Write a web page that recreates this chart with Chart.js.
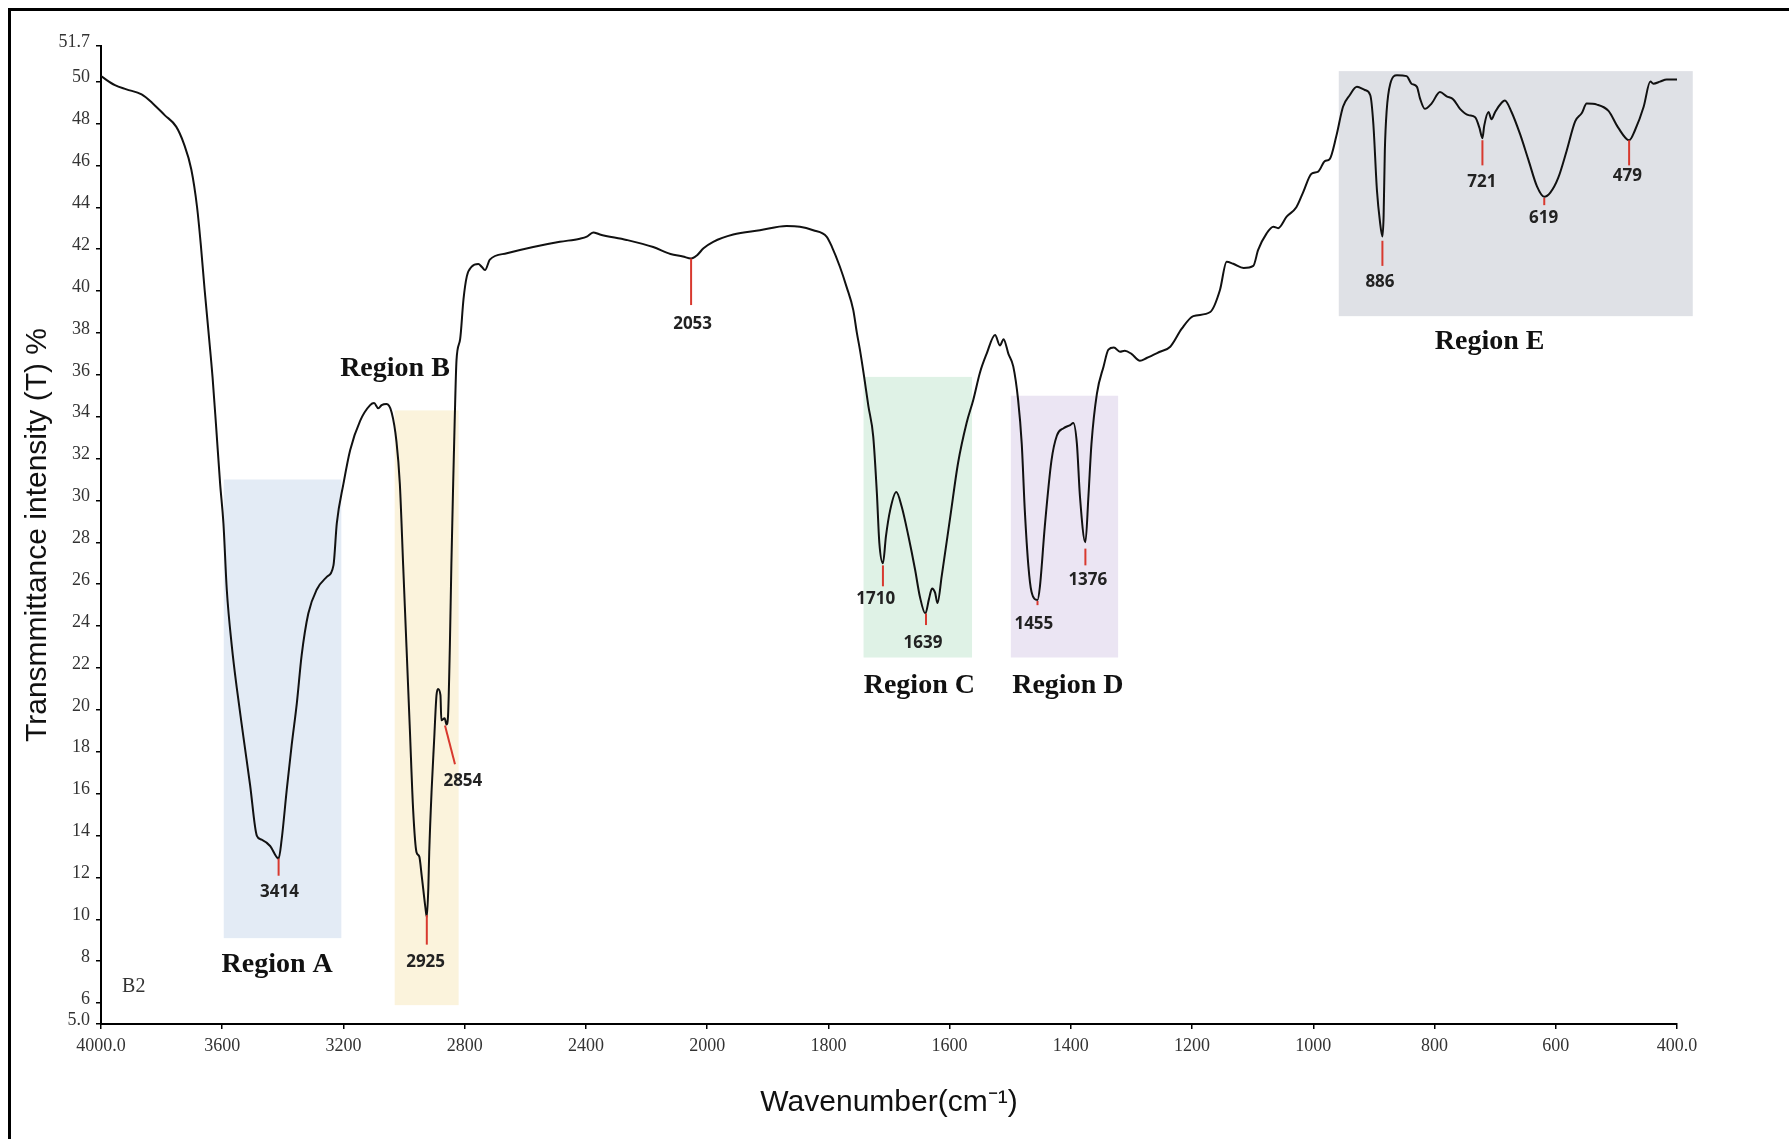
<!DOCTYPE html>
<html lang="en">
<head>
    <meta charset="UTF-8">
    <title>FTIR spectrum B2</title>
    <script src="https://cdn.jsdelivr.net/npm/chart.js"></script>
    <style>
        body, html {
            margin: 0;
            padding: 0;
            background: #ffffff;
            overflow: hidden;
        }
        .wrap {
            position: relative;
            width: 1789px;
            height: 1139px;
        }
        .frame {
            position: absolute;
            left: 8px;
            top: 8px;
            width: 2000px;
            height: 2000px;
            border: 3px solid #000;
            pointer-events: none;
        }
    </style>
</head>
<body>
<div class="wrap">
    <canvas id="ftir"></canvas>
    <div class="frame"></div>
</div>
<script>
// spectrum (wavenumber cm-1 / transmittance %)
const wavenumber = [
    4000, 3954, 3916, 3866, 3829, 3790, 3752, 3727, 3702, 3683, 3670, 3658, 3645, 3632, 3620, 3607,
    3596, 3585, 3568, 3552, 3530, 3508, 3486, 3470, 3442, 3414, 3404, 3387, 3371, 3354, 3338, 3316,
    3288, 3255, 3233, 3222, 3200, 3178, 3145, 3112, 3099, 3085, 3074, 3058, 3041, 3025, 3014, 3003,
    2992, 2981, 2970, 2959, 2950, 2942, 2930, 2925, 2920, 2917, 2909, 2901, 2893, 2888, 2880, 2877,
    2866, 2860, 2855, 2849, 2844, 2838, 2833, 2827, 2815, 2804, 2793, 2777, 2755, 2744, 2733, 2717,
    2661, 2574, 2486, 2420, 2397, 2376, 2354, 2266, 2178, 2121, 2080, 2053, 2034, 2012, 1990, 1957,
    1913, 1869, 1847, 1825, 1803, 1794, 1781, 1770, 1759, 1753, 1748, 1741, 1734, 1726, 1720, 1716,
    1710, 1705, 1698, 1688, 1679, 1668, 1657, 1649, 1640, 1634, 1629, 1624, 1620, 1613, 1599, 1586,
    1572, 1561, 1550, 1539, 1525, 1517, 1511, 1503, 1495, 1487, 1481, 1476, 1470, 1465, 1455, 1451,
    1443, 1432, 1423, 1412, 1401, 1396, 1390, 1385, 1376, 1371, 1366, 1357, 1346, 1338, 1329, 1319,
    1311, 1300, 1286, 1275, 1253, 1236, 1217, 1198, 1170, 1154, 1143, 1132, 1115, 1099, 1091, 1077,
    1066, 1058, 1044, 1028, 1017, 1003, 992, 981, 973, 962, 951, 940, 928, 915, 906, 901,
    895, 890, 886, 884, 882, 879, 873, 862, 846, 838, 829, 824, 816, 805, 791, 780,
    769, 758, 744, 733, 726, 721, 718, 711, 706, 700, 689, 684, 673, 659, 645, 631,
    619, 609, 596, 582, 568, 557, 549, 532, 513, 497, 479, 469, 455, 444, 439, 428,
    417, 400
];
const transmittance = [
    50.26, 49.83, 49.63, 49.39, 48.96, 48.4, 47.85, 47.05, 45.8, 44.0, 42.1, 40.05, 38.0, 35.9, 33.5, 30.8,
    28.9, 25.75, 23.0, 21.05, 18.7, 16.4, 14.0, 13.8, 13.5, 12.9, 13.8, 16.2, 18.3, 20.3, 22.6, 24.6,
    25.75, 26.35, 26.9, 28.9, 30.8, 32.4, 33.8, 34.55, 34.65, 34.4, 34.55, 34.6, 34.2, 32.8, 30.8, 26.9,
    23.0, 19.1, 15.2, 13.2, 13.0, 12.1, 10.6, 10.1, 11.5, 13.2, 16.2, 18.5, 20.7, 21.0, 20.7, 19.5,
    19.6, 19.3, 19.7, 23.0, 26.9, 30.8, 33.8, 36.7, 37.7, 39.6, 40.7, 41.16, 41.29, 41.16, 41.0, 41.5,
    41.8, 42.1, 42.35, 42.5, 42.6, 42.8, 42.7, 42.44, 42.1, 41.77, 41.65, 41.55, 41.7, 42.04, 42.35, 42.7,
    42.9, 43.1, 43.07, 42.9, 42.6, 42.1, 41.16, 40.2, 39.1, 38.0, 37.2, 35.9, 34.5, 33.05, 30.35, 28.0,
    27.0, 28.3, 29.55, 30.4, 29.7, 28.3, 26.7, 25.4, 24.6, 25.3, 25.8, 25.6, 25.1, 26.4, 29.2, 31.8,
    33.7, 34.8, 36.1, 37.0, 37.9, 37.4, 37.7, 37.0, 36.4, 34.8, 32.7, 29.55, 26.85, 25.65, 25.25, 25.9,
    28.75, 31.9, 33.1, 33.45, 33.6, 33.7, 32.7, 30.2, 28.0, 30.2, 32.7, 35.1, 36.4, 37.2, 37.3, 37.1,
    37.15, 37.0, 36.67, 36.8, 37.1, 37.34, 38.2, 38.8, 39.0, 40.05, 41.4, 41.3, 41.1, 41.2, 41.96, 42.75,
    43.07, 43.0, 43.55, 44.0, 44.7, 45.6, 45.7, 46.2, 46.3, 47.4, 48.8, 49.35, 49.75, 49.6, 49.35, 48.0,
    44.8, 43.3, 42.6, 43.6, 46.7, 48.6, 49.9, 50.3, 50.26, 49.9, 49.75, 49.2, 48.7, 48.95, 49.5, 49.3,
    49.15, 48.7, 48.4, 48.3, 47.8, 47.3, 47.9, 48.55, 48.2, 48.55, 49.0, 49.1, 48.55, 47.5, 46.25, 45.0,
    44.5, 44.7, 45.4, 46.7, 48.1, 48.5, 48.95, 48.9, 48.6, 47.8, 47.2, 47.7, 48.8, 50.0, 49.9, 50.0,
    50.1, 50.1
];

// axis ticks
const xTicks = [4000, 3600, 3200, 2800, 2400, 2000, 1800, 1600, 1400, 1200, 1000, 800, 600, 400];
const xTickLabels = ['4000.0', '3600', '3200', '2800', '2400', '2000', '1800', '1600', '1400', '1200', '1000', '800', '600', '400.0'];
const yTicks = [5, 6, 8, 10, 12, 14, 16, 18, 20, 22, 24, 26, 28, 30, 32, 34, 36, 38, 40, 42, 44, 46, 48, 50, 51.7];
const yTickLabels = ['5.0', '6', '8', '10', '12', '14', '16', '18', '20', '22', '24', '26', '28', '30', '32', '34', '36', '38', '40', '42', '44', '46', '48', '50', '51.7'];

// assigned peaks
const peakLabels = ['3414', '2925', '2854', '2053', '1710', '1639', '1455', '1376', '886', '721', '619', '479'];
const peakWn     = [3414, 2925, 2865, 2053, 1710, 1639, 1455, 1376, 886, 721, 619, 479];
const peakWnEnd  = [3414, 2925, 2832, 2053, 1710, 1639, 1455, 1376, 886, 721, 619, 479];
const peakTop    = [12.9, 10.2, 19.25, 41.55, 26.9, 24.6, 25.2, 27.7, 42.4, 47.2, 44.45, 47.2];
const peakBottom = [12.08, 8.79, 17.4, 39.33, 25.9, 24.05, 25.0, 26.9, 41.2, 46.0, 44.1, 46.0];
const peakTextWn = [3411, 2929, 2806, 2048, 1722, 1644, 1461, 1372, 890, 722, 620, 482];
const peakTextT  = [11.3, 7.97, 16.6, 38.4, 25.3, 23.2, 24.1, 26.2, 40.4, 45.2, 43.5, 45.5];

// shaded regions
const regionNames  = ['Region A', 'Region B', 'Region C', 'Region D', 'Region E'];
const regionFrom   = [3595, 3031, 1742, 1499, 958];
const regionTo     = [3207, 2820, 1563, 1322, 374];
const regionTop    = [31.0, 34.3, 35.9, 35.0, 50.5];
const regionBottom = [9.1, 5.9, 22.5, 22.5, 38.8];
const regionColors = ['#e3ebf5', '#fbf3dc', '#dff2e6', '#ebe5f3', '#dfe1e6'];
const regionTextWn = [3419, 3030, 1650, 1405, 709];
const regionTextT  = [7.83, 36.3, 21.16, 21.16, 37.6];

// IR wavenumber axis: 400 cm-1 per step above 2000, 200 cm-1 per step below
function irUnit(v) {
    return v >= 2000 ? (4000 - v) / 400 : 5 + (2000 - v) / 200;
}
class IRScale extends Chart.LinearScale {
    getPixelForValue(value) {
        return this.getPixelForDecimal(irUnit(value) / irUnit(400));
    }
    getValueForPixel(pixel) {
        const u = this.getDecimalForPixel(pixel) * irUnit(400);
        return u <= 5 ? 4000 - u * 400 : 2000 - (u - 5) * 200;
    }
}
IRScale.id = 'irscale';
IRScale.defaults = Chart.LinearScale.defaults;
Chart.register(IRScale);

const regionsPlugin = {
    id: 'regions',
    beforeDatasetsDraw(chart) {
        const {ctx, scales: {x, y}} = chart;
        ctx.save();
        regionNames.forEach((name, i) => {
            const x0 = x.getPixelForValue(regionFrom[i]);
            const x1 = x.getPixelForValue(regionTo[i]);
            const y0 = y.getPixelForValue(regionTop[i]);
            const y1 = y.getPixelForValue(regionBottom[i]);
            ctx.fillStyle = regionColors[i];
            ctx.fillRect(x0, y0, x1 - x0, y1 - y0);
        });
        ctx.restore();
    },
    afterDatasetsDraw(chart) {
        const {ctx, scales: {x, y}} = chart;
        ctx.save();
        // peak markers
        ctx.strokeStyle = '#d8392f';
        ctx.lineWidth = 2;
        peakLabels.forEach((lab, i) => {
            ctx.beginPath();
            ctx.moveTo(x.getPixelForValue(peakWn[i]), y.getPixelForValue(peakTop[i]));
            ctx.lineTo(x.getPixelForValue(peakWnEnd[i]), y.getPixelForValue(peakBottom[i]));
            ctx.stroke();
        });
        ctx.textAlign = 'center';
        ctx.textBaseline = 'middle';
        ctx.fillStyle = '#222';
        ctx.font = "bold 17px 'Open Sans', 'Liberation Sans', sans-serif";
        peakLabels.forEach((lab, i) => {
            ctx.fillText(lab, x.getPixelForValue(peakTextWn[i]), y.getPixelForValue(peakTextT[i]));
        });
        // region names
        ctx.fillStyle = '#111';
        ctx.font = "bold 28px 'Liberation Serif', 'Times New Roman', serif";
        regionNames.forEach((name, i) => {
            ctx.fillText(name, x.getPixelForValue(regionTextWn[i]), y.getPixelForValue(regionTextT[i]));
        });
        // sample tag
        ctx.fillStyle = '#333';
        ctx.font = "20px 'Liberation Serif', 'Times New Roman', serif";
        ctx.fillText('B2', x.getPixelForValue(3892), y.getPixelForValue(6.78));
        ctx.restore();
    }
};

new Chart(document.getElementById('ftir'), {
    type: 'line',
    data: {
        datasets: [{
            label: 'B2',
            data: wavenumber.map((w, i) => ({x: w, y: transmittance[i]})),
            borderColor: '#111',
            borderWidth: 2,
            pointRadius: 0,
            cubicInterpolationMode: 'monotone',
            fill: false
        }]
    },
    options: {
        responsive: true,
        maintainAspectRatio: false,
        animation: false,
        layout: { padding: { left: 0, top: 46, right: 112, bottom: 0 } },
        plugins: {
            legend: { display: false },
            tooltip: { enabled: false }
        },
        scales: {
            x: {
                type: 'irscale',
                min: 400,
                max: 4000,
                afterBuildTicks: (scale) => { scale.ticks = xTicks.map(v => ({value: v})); },
                afterFit: (scale) => { scale.height = 115; },
                grid: { drawOnChartArea: false, tickLength: 5, color: '#000', lineWidth: 1.5 },
                border: { display: true, color: '#000', width: 2 },
                ticks: {
                    autoSkip: false,
                    maxRotation: 0,
                    padding: 6,
                    color: '#333',
                    font: { family: "'Liberation Serif', 'Times New Roman', serif", size: 18 },
                    callback: (v, i) => xTickLabels[i]
                },
                title: {
                    display: true,
                    text: 'Wavenumber(cm\u207B\u00B9)',
                    color: '#111',
                    font: { family: "'Liberation Sans', Arial, sans-serif", size: 30 },
                    padding: { top: 0, bottom: 18 }
                }
            },
            y: {
                type: 'linear',
                min: 5,
                max: 51.7,
                afterBuildTicks: (scale) => { scale.ticks = yTicks.map(v => ({value: v})); },
                afterFit: (scale) => { scale.width = 101; },
                grid: { drawOnChartArea: false, tickLength: 5, color: '#000', lineWidth: 1.5 },
                border: { display: true, color: '#000', width: 2 },
                ticks: {
                    autoSkip: false,
                    padding: 6,
                    labelOffset: -4,
                    color: '#333',
                    font: { family: "'Liberation Serif', 'Times New Roman', serif", size: 18 },
                    callback: (v, i) => yTickLabels[i]
                },
                title: {
                    display: true,
                    text: 'Transmmittance intensity (T) %',
                    color: '#111',
                    font: { family: "'Liberation Sans', Arial, sans-serif", size: 30 },
                    padding: { top: 20, bottom: 0 }
                }
            }
        }
    },
    plugins: [regionsPlugin]
});
</script>
</body>
</html>
